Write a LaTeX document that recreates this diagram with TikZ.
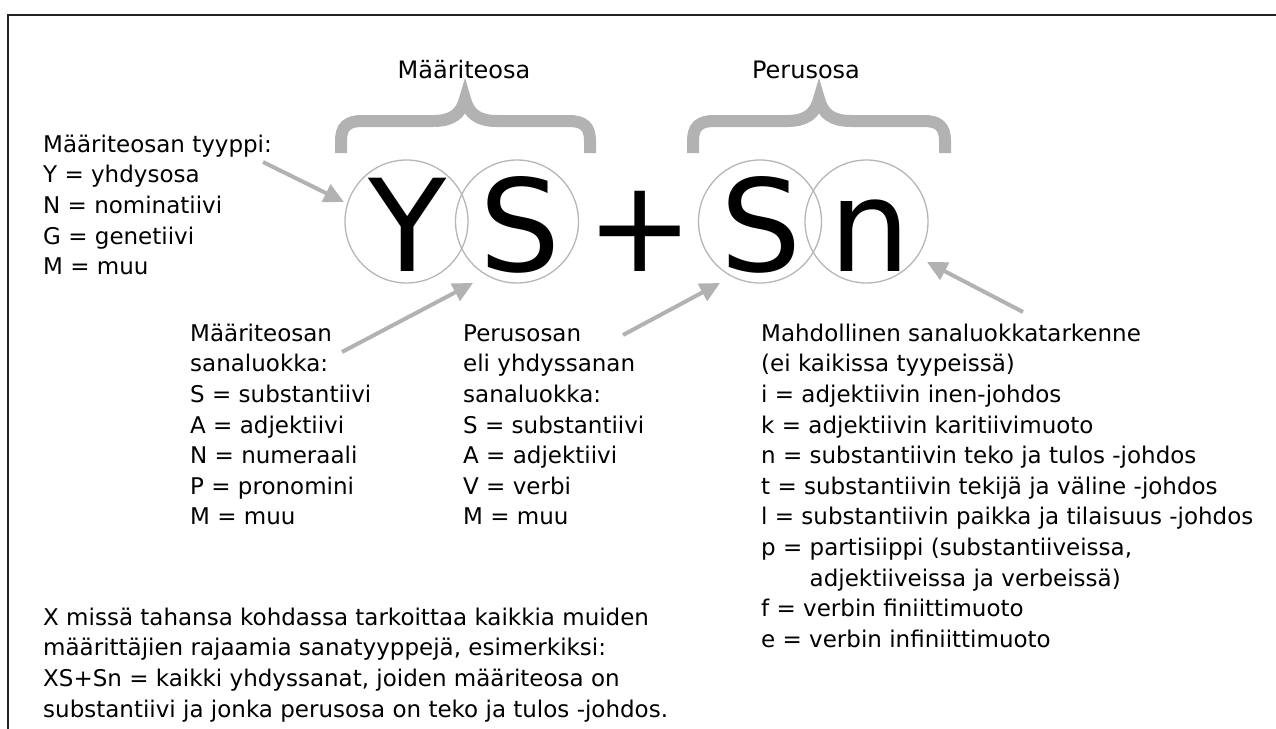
\documentclass[tikz,border=0pt]{standalone}
\usepackage{fontspec}
\setmainfont{DejaVu Sans}
\usetikzlibrary{arrows.meta}
\definecolor{bracegray}{RGB}{178,178,178}
\definecolor{ringgray}{RGB}{182,182,182}
\definecolor{framegray}{RGB}{35,35,35}
\tikzset{
  txt/.style={anchor=north west, inner sep=0pt, align=left,
              font=\fontsize{23}{30.6}\selectfont},
  head/.style={anchor=base, inner sep=0pt, font=\fontsize{24}{28}\selectfont},
  ring/.style={circle, draw=ringgray, line width=1.3pt, minimum size=123pt, inner sep=0pt},
  big/.style={anchor=base, inner sep=0pt, font=\fontsize{128}{140}\selectfont},
  brace/.style={draw=bracegray, line width=12pt},
  pointer/.style={draw=bracegray, line width=4pt,
                  -{Triangle[length=20pt,width=19pt]}},
  frame/.style={draw=framegray, line width=2pt}
}
\begin{document}
\begin{tikzpicture}[x=1pt,y=-1pt]
\useasboundingbox (0,0) rectangle (1276,728);

% outer frame (only its top and left edges fall inside the page)
\draw[frame] (7.5,740) -- (7.5,14.5) -- (1290,14.5);

% rings round the letters
\node[ring] (cY)  at (406.5,221.5) {};
\node[ring] (cS1) at (517,221.5) {};
\node[ring] (cS2) at (760,221.5) {};
\node[ring] (cN)  at (866.5,221.5) {};

% the code letters
\node[big] (lY)  at (408,271) {Y};
\node[big] (lS1) at (520,271) {S};
\node[big] (lP)  at (640,271) {+};
\node[big] (lS2) at (761,271) {S};
\node[big] (lN)  at (870,271) {n};

% braces over the two halves
\draw[brace] (341,153) -- (341,141) .. controls (341,127) and (347,121) .. (362,121)
  -- (433,121) .. controls (452,121) and (461,114) .. (465,99)
  .. controls (469,114) and (478,121) .. (497,121)
  -- (569,121) .. controls (584,121) and (590,127) .. (590,141) -- (590,153);
\draw[brace] (693,153) -- (693,141) .. controls (693,127) and (699,121) .. (714,121)
  -- (787,121) .. controls (806,121) and (815,114) .. (819,99)
  .. controls (823,114) and (832,121) .. (851,121)
  -- (924,121) .. controls (939,121) and (945,127) .. (945,141) -- (945,153);

\node[head] (hM) at (464,78) {Määriteosa};
\node[head] (hP) at (806,78) {Perusosa};

% explanation blocks
\node[txt] (t1) at (43,130.6) {\strut Määriteosan tyyppi:\\
  Y = yhdysosa\\ N = nominatiivi\\ G = genetiivi\\ M = muu};
\node[txt] (t2) at (190,319.6) {\strut Määriteosan\\ sanaluokka:\\
  S = substantiivi\\ A = adjektiivi\\ N = numeraali\\ P = pronomini\\ M = muu};
\node[txt] (t3) at (463,319.6) {\strut Perusosan\\ eli yhdyssanan\\ sanaluokka:\\
  S = substantiivi\\ A = adjektiivi\\ V = verbi\\ M = muu};
\node[txt] (t4) at (761,319.6) {\strut Mahdollinen sanaluokkatarkenne\\
  (ei kaikissa tyypeissä)\\
  i = adjektiivin inen-johdos\\
  k = adjektiivin karitiivimuoto\\
  n = substantiivin teko ja tulos -johdos\\
  t = substantiivin tekijä ja väline -johdos\\
  l = substantiivin paikka ja tilaisuus -johdos\\
  p = partisiippi (substantiiveissa,\\
  \phantom{p = }adjektiiveissa ja verbeissä)\\
  f = verbin finiittimuoto\\
  e = verbin infiniittimuoto};
\node[txt] (t5) at (43,603.6) {\strut X missä tahansa kohdassa tarkoittaa kaikkia muiden\\
  määrittäjien rajaamia sanatyyppejä, esimerkiksi:\\
  XS+Sn = kaikki yhdyssanat, joiden määriteosa on\\
  substantiivi ja jonka perusosa on teko ja tulos -johdos.};

% pointer ends
\coordinate (a1s) at (263,162);  \coordinate (a1e) at (344,202);
\coordinate (a2s) at (342,352);  \coordinate (a2e) at (473,283);
\coordinate (a3s) at (623,335);  \coordinate (a3e) at (720,283);
\coordinate (a4s) at (1023,312); \coordinate (a4e) at (927,262);

\draw[pointer] (a1s) -- (a1e);
\draw[pointer] (a2s) -- (a2e);
\draw[pointer] (a3s) -- (a3e);
\draw[pointer] (a4s) -- (a4e);
\end{tikzpicture}
\end{document}
